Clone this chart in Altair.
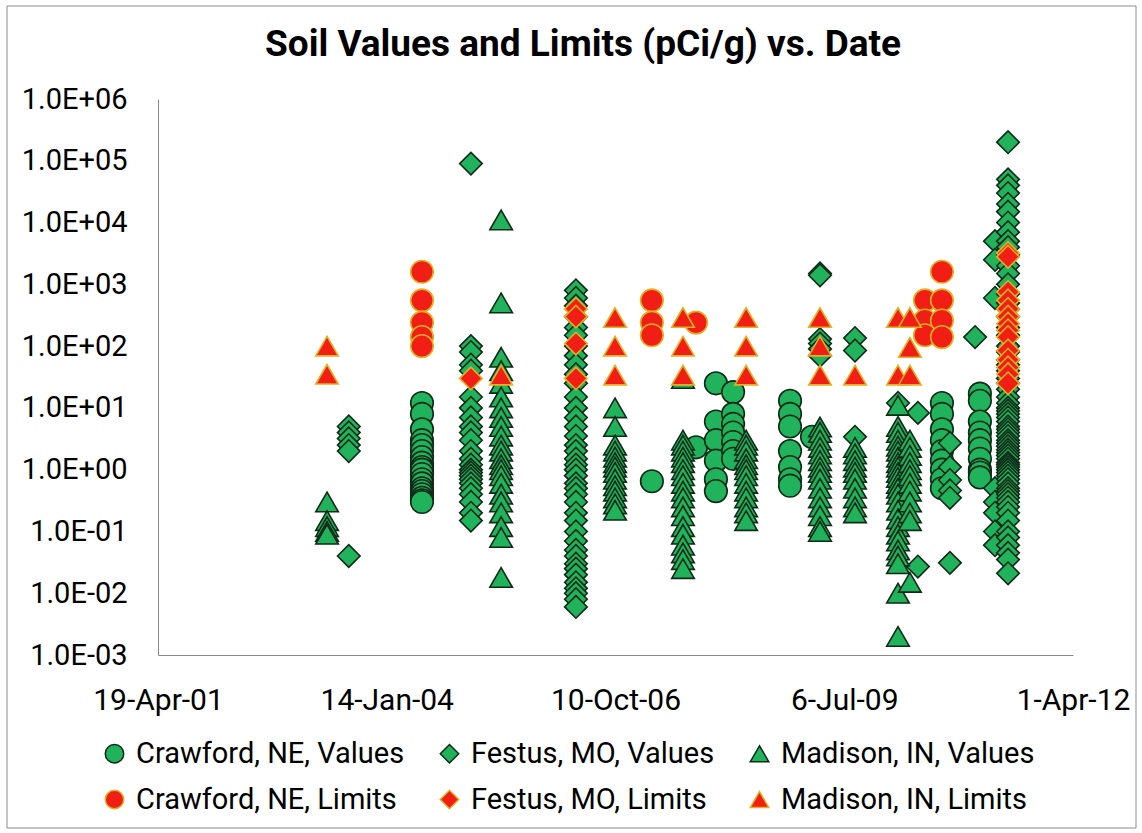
import altair as alt
import pandas as pd

# ---------------- data ----------------
series_names = [
    "Crawford, NE, Values", "Festus, MO, Values", "Madison, IN, Values",
    "Crawford, NE, Limits", "Festus, MO, Limits", "Madison, IN, Limits",
]

crawford_values_dates = ["2004-06-16", "2007-03-18", "2007-09-27", "2007-12-23", "2008-03-07",
                         "2008-11-11", "2009-02-15", "2010-09-06", "2011-02-19"]
crawford_values = [
    [12, 8, 4.5, 3, 2.5, 2, 1.6, 1.3, 1.1, 1, 0.85, 0.7, 0.6, 0.5, 0.45, 0.4, 0.35, 0.32, 0.3],
    [0.65],
    [2.3],
    [25, 6, 3, 1.4, 0.7, 0.45],
    [18, 8, 5.5, 4, 2.8, 2, 1.5],
    [13, 8, 5, 2, 1.1, 0.7, 0.55],
    [3.4],
    [12, 8, 4.5, 3, 2, 1.4, 1, 0.7, 0.5],
    [17, 13, 6, 4, 3, 2.2, 1.5, 1, 0.9, 0.75],
]

festus_values_dates = ["2003-08-01", "2005-01-16", "2006-04-20", "2009-03-22", "2009-08-22",
                       "2010-02-26", "2010-05-24", "2010-10-11", "2011-01-29", "2011-04-26",
                       "2011-06-22"]
festus_values = [
    [5, 4, 3.2, 2.5, 2, 0.04],
    [90000, 100, 80, 50, 40, 15, 10, 7, 5, 4, 3, 2, 1.5, 1.2, 1, 0.9, 0.8, 0.7, 0.6, 0.5,
     0.4, 0.3, 0.2, 0.15],
    [800, 600, 450, 300, 200, 150, 100, 70, 50, 35, 25, 15, 10, 7, 5, 3.5, 2.5, 2, 1.5, 1.2,
     1, 0.8, 0.6, 0.5, 0.4, 0.3, 0.2, 0.15, 0.1, 0.07, 0.05, 0.04, 0.03, 0.025, 0.02, 0.015,
     0.012, 0.01, 0.008, 0.006],
    [1500, 1400, 130, 110, 90, 70],
    [135, 85, 3.4],
    [12],
    [8.3, 0.027],
    [2.7, 1.1, 0.68, 0.46, 0.35, 0.031],
    [140],
    [5000, 2500, 600, 0.5, 0.3, 0.2, 0.1, 0.06],
    [200000, 50000, 40000, 30000, 20000, 15000, 10000, 7000, 5000, 4000, 3000, 2000, 1500,
     1000, 700, 500, 400, 300, 200, 150, 100, 80, 60, 50, 40, 30, 25, 20, 15, 12, 10, 9, 8,
     7, 6, 5, 4.5, 4, 3.5, 3, 2.7, 2.4, 2.1, 1.9, 1.7, 1.5, 1.3, 1.2, 1.1, 1, 0.9, 0.8, 0.7,
     0.6, 0.5, 0.45, 0.4, 0.35, 0.3, 0.25, 0.2, 0.15, 0.1, 0.08, 0.06, 0.045, 0.035, 0.021],
]

madison_values_dates = ["2003-04-28", "2005-05-28", "2006-10-08", "2007-08-01", "2008-05-03",
                        "2009-03-22", "2009-08-22", "2010-02-26", "2010-04-19"]
madison_values = [
    [0.3, 0.15, 0.12, 0.1, 0.09],
    [11000, 500, 66, 40, 25, 15, 10, 7, 5, 3.5, 2.5, 2, 1.5, 1.2, 1, 0.8, 0.6, 0.4, 0.3,
     0.2, 0.12, 0.08, 0.018],
    [10, 5, 2.5, 2, 1.6, 1.3, 1.1, 0.9, 0.7, 0.55, 0.45, 0.35, 0.28, 0.22],
    [30, 3, 2.5, 2, 1.6, 1.3, 1, 0.8, 0.6, 0.45, 0.35, 0.25, 0.18, 0.12, 0.09, 0.06,
     0.045, 0.035, 0.025],
    [3, 2.5, 2, 1.5, 1.2, 1, 0.8, 0.6, 0.45, 0.35, 0.25, 0.2, 0.15],
    [4.9, 4, 3, 2.3, 1.8, 1.4, 1.1, 0.9, 0.7, 0.5, 0.35, 0.25, 0.18, 0.12, 0.1],
    [2.3, 1.8, 1.4, 1.1, 0.9, 0.7, 0.5, 0.35, 0.25, 0.2],
    [11, 5, 4, 3, 2.4, 2, 1.6, 1.3, 1.1, 0.9, 0.75, 0.6, 0.5, 0.4, 0.3, 0.22, 0.16, 0.12,
     0.09, 0.07, 0.05, 0.04, 0.03, 0.01, 0.002],
    [3, 2.3, 1.7, 1.3, 1, 0.8, 0.6, 0.45, 0.3, 0.2, 0.15, 0.015],
]

crawford_limits_dates = ["2004-06-16", "2007-03-18", "2007-09-27", "2010-06-24", "2010-09-06"]
crawford_limits = [
    [1600, 550, 240, 140, 100],
    [550, 240, 150],
    [240],
    [550, 260, 150],
    [1600, 550, 260, 140],
]

festus_limits_dates = ["2005-01-16", "2006-04-20", "2011-06-22"]
festus_limits = [
    [30],
    [400, 300, 110, 30],
    [3200, 2800, 750, 550, 400, 300, 230, 180, 140, 85, 60, 45, 35, 25],
]

madison_limits_dates = ["2003-04-28", "2005-05-28", "2006-10-08", "2007-08-01", "2008-05-03",
                        "2009-03-22", "2009-08-22", "2010-02-26", "2010-04-19"]
madison_limits = [
    [100, 35],
    [34],
    [290, 100, 34],
    [290, 100, 34],
    [290, 100, 34],
    [290, 100, 34],
    [34],
    [290, 34],
    [290, 95, 34],
]

title_text = "Soil Values and Limits (pCi/g) vs. Date"
x_tick_dates = ["2001-04-19", "2004-01-14", "2006-10-10", "2009-07-06", "2012-04-01"]
y_tick_values = [1e-3, 1e-2, 1e-1, 1, 10, 100, 1e3, 1e4, 1e5, 1e6]

# ---------------- build table ----------------
groups = [
    (series_names[0], crawford_values_dates, crawford_values),
    (series_names[1], festus_values_dates, festus_values),
    (series_names[2], madison_values_dates, madison_values),
    (series_names[3], crawford_limits_dates, crawford_limits),
    (series_names[4], festus_limits_dates, festus_limits),
    (series_names[5], madison_limits_dates, madison_limits),
]
rows = []
order = 0
for name, dates, vals in groups:
    for d, vs in zip(dates, vals):
        for v in vs:
            rows.append({"series": name, "date": d, "value": v, "order": order})
            order += 1
df = pd.DataFrame(rows)


def ms(s):
    return int(pd.Timestamp(s, tz="UTC").timestamp() * 1000)


x_ticks_ms = [ms(d) for d in x_tick_dates]

GREEN = "#21b25c"
GREEN_STROKE = "#0f2a17"
RED = "#f01e14"
GOLD = "#e2b020"
FONT = "Roboto"

legend = alt.Legend(
    title=None, orient="none", legendX=-58, legendY=640, columns=3, direction="horizontal",
    labelFont=FONT, labelFontSize=29, labelColor="#000000", labelLimit=500,
    symbolSize=340, symbolStrokeWidth=1.5, labelOffset=7, columnPadding=30,
    rowPadding=16,
)

points = alt.Chart(df).mark_point(filled=True, strokeWidth=1.6, opacity=1).encode(
    x=alt.X(
        "date:T",
        scale=alt.Scale(type="utc", domain=[x_ticks_ms[0], x_ticks_ms[-1]], nice=False),
        axis=alt.Axis(
            title=None, values=x_ticks_ms,
            labelExpr="utcFormat(datum.value, '%-d-%b-%y')",
            grid=False, ticks=False, tickSize=0, labelPadding=30,
            domainColor="#8a8a8a", labelFont=FONT, labelFontSize=30, labelColor="#000000",
            labelFlush=False, labelOverlap=False,
        ),
    ),
    y=alt.Y(
        "value:Q",
        scale=alt.Scale(type="log", domain=[1e-3, 1e6], nice=False),
        axis=alt.Axis(
            title=None, values=y_tick_values, grid=False, ticks=False, tickSize=0,
            labelPadding=31, domainColor="#8a8a8a", labelFont=FONT, labelFontSize=29,
            labelColor="#000000", labelFlush=False, labelOverlap=False,
            labelExpr="'1.0E' + (datum.value < 1 ? '-' : '+') + (abs(round(log(datum.value)/LN10)) < 10 ? '0' : '') + abs(round(log(datum.value)/LN10))",
        ),
    ),
    shape=alt.Shape("series:N", scale=alt.Scale(
        domain=series_names,
        range=["circle", "diamond", "triangle-up", "circle", "diamond", "triangle-up"]),
        legend=legend),
    fill=alt.Fill("series:N", scale=alt.Scale(
        domain=series_names, range=[GREEN, GREEN, GREEN, RED, RED, RED]), legend=legend),
    stroke=alt.Stroke("series:N", scale=alt.Scale(
        domain=series_names,
        range=[GREEN_STROKE, GREEN_STROKE, GREEN_STROKE, GOLD, GOLD, GOLD]), legend=legend),
    order=alt.Order("order:Q"),
)

one_row = pd.DataFrame({"label": [title_text]})

frame = alt.Chart(one_row).mark_rect(
    fill=None, stroke="#8c8c8c", strokeWidth=1
).encode(
    x=alt.value(-151), x2=alt.value(978), y=alt.value(-93), y2=alt.value(729)
)

title = alt.Chart(one_row).mark_text(
    font=FONT, fontSize=37, fontWeight="bold", color="#000000",
    align="center", baseline="middle",
).encode(
    text="label:N", x=alt.value(425), y=alt.value(-54)
)

chart = alt.layer(frame, points, title).properties(
    width=915,
    height=556,
    autosize=alt.AutoSizeParams(type="none"),
    padding={"left": 158, "top": 99, "right": 69, "bottom": 178},
).configure_view(
    stroke=None
).configure_point(
    size=510
)

chart.save("out.html", embed_options={"renderer": "svg", "actions": False})
